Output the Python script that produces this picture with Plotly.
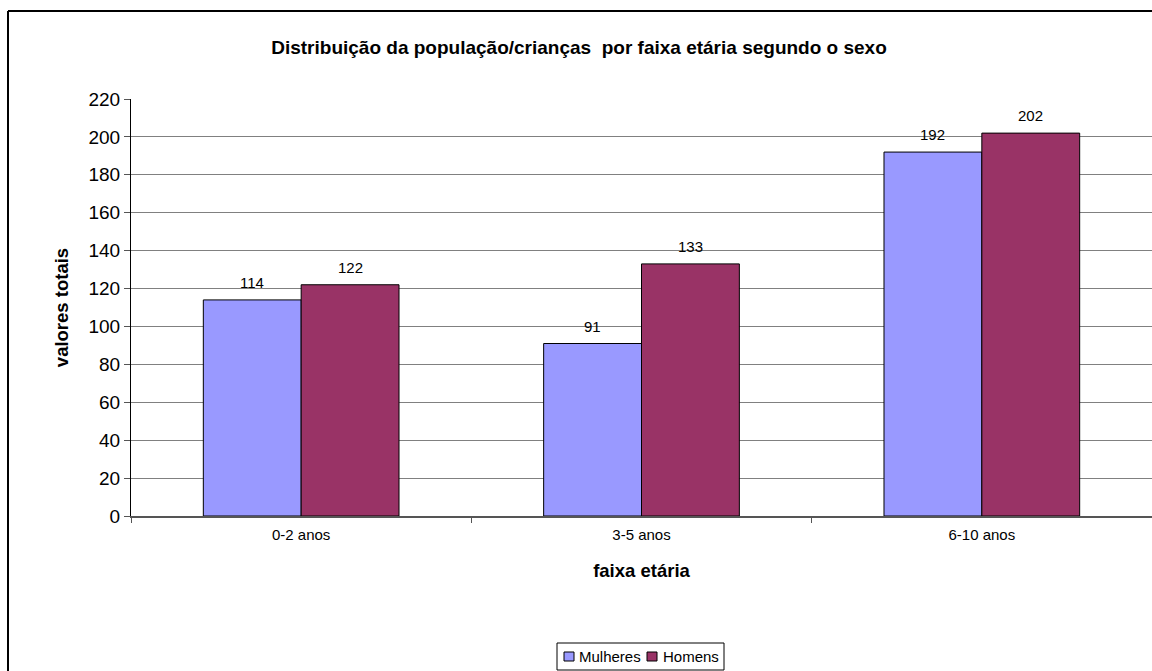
import plotly.graph_objects as go

# Children by age group and sex
faixas = ["0-2 anos", "3-5 anos", "6-10 anos"]
series_names = ["Mulheres", "Homens"]
mulheres = [114, 91, 192]
homens = [122, 133, 202]
y_ticks = list(range(0, 221, 20))

COLORS = ["#9999FF", "#993366"]

W, H = 1152, 671
L, R, T, B = 131, 0, 99, 155
plot_w = W - L - R
plot_h = H - T - B
BARGAP = 0.425

FONT = "Liberation Sans, Arial, sans-serif"


def px_x(px):
    """Pixel column -> paper x."""
    return (px - L) / plot_w


def px_y(py):
    """Pixel row -> paper y."""
    return (H - B - py) / plot_h


fig = go.Figure()
for name, values, color in zip(series_names, [mulheres, homens], COLORS):
    fig.add_trace(go.Bar(
        name=name, x=faixas, y=values,
        marker=dict(color=color, line=dict(color="#000000", width=1)),
        showlegend=False,
    ))

# Value labels above each bar (offset to the bar's slot within its group)
cat_px = plot_w / len(faixas)
bar_px = cat_px * (1 - BARGAP) / len(series_names)
for i, values in enumerate([mulheres, homens]):
    shift = (i - (len(series_names) - 1) / 2) * bar_px
    for cat, v in zip(faixas, values):
        fig.add_annotation(x=cat, y=v, xref="x", yref="y", text=str(v),
                           showarrow=False, xanchor="center", yanchor="bottom",
                           xshift=shift, yshift=7,
                           font=dict(family=FONT, size=15, color="#000000"))

# Outer chart frame (left and top edges are visible)
fig.add_shape(type="line", xref="paper", yref="paper",
              x0=px_x(8), x1=px_x(8), y0=px_y(H + 10), y1=px_y(11),
              line=dict(color="#000000", width=2))
fig.add_shape(type="line", xref="paper", yref="paper",
              x0=px_x(8), x1=px_x(W + 10), y0=px_y(11), y1=px_y(11),
              line=dict(color="#000000", width=2))

# Legend box with swatches and labels
fig.add_shape(type="rect", xref="paper", yref="paper",
              x0=px_x(557), x1=px_x(724), y0=px_y(670), y1=px_y(643),
              line=dict(color="#000000", width=1), fillcolor="#FFFFFF")
swatch_x = [564, 647]
label_x = [577, 661]
for name, color, sx, lx in zip(series_names, COLORS, swatch_x, label_x):
    fig.add_shape(type="rect", xref="paper", yref="paper",
                  x0=px_x(sx), x1=px_x(sx + 10), y0=px_y(661), y1=px_y(652),
                  line=dict(color="#000000", width=1), fillcolor=color)
    fig.add_annotation(xref="paper", yref="paper", x=px_x(lx), y=px_y(656.5),
                       xanchor="left", yanchor="middle", showarrow=False,
                       text=name, font=dict(family=FONT, size=15, color="#000000"))

fig.update_layout(
    width=W, height=H,
    margin=dict(l=L, r=R, t=T, b=B),
    paper_bgcolor="#FFFFFF", plot_bgcolor="#FFFFFF",
    barmode="group", bargap=BARGAP, bargroupgap=0,
    font=dict(family=FONT, color="#000000"),
    showlegend=False,
    title=dict(
        text="<b>Distribuição da população/crianças  por faixa etária segundo o sexo</b>",
        x=579 / W, xanchor="center", y=1 - 47 / H, yanchor="middle",
        font=dict(family=FONT, size=19, color="#000000"),
    ),
    xaxis=dict(
        type="category", range=[-0.5, 2.5],
        tickson="boundaries", ticks="outside", ticklen=5, tickcolor="#555555",
        showline=True, linecolor="#555555", linewidth=2,
        showgrid=False, zeroline=False,
        ticklabelstandoff=4,
        tickfont=dict(family=FONT, size=15, color="#000000"),
        title=dict(text="<b>faixa etária</b>", standoff=22,
                   font=dict(family=FONT, size=18.5, color="#000000")),
    ),
    yaxis=dict(
        range=[0, 220], tickvals=y_ticks,
        ticks="outside", ticklen=6, tickcolor="#555555",
        showline=True, linecolor="#000000", linewidth=1,
        showgrid=True, gridcolor="#808080", gridwidth=1,
        zeroline=False,
        tickfont=dict(family=FONT, size=19, color="#000000"),
        title=dict(text="<b>valores totais</b>", standoff=15,
                   font=dict(family=FONT, size=18.5, color="#000000")),
    ),
)

fig.write_html("out.html")
